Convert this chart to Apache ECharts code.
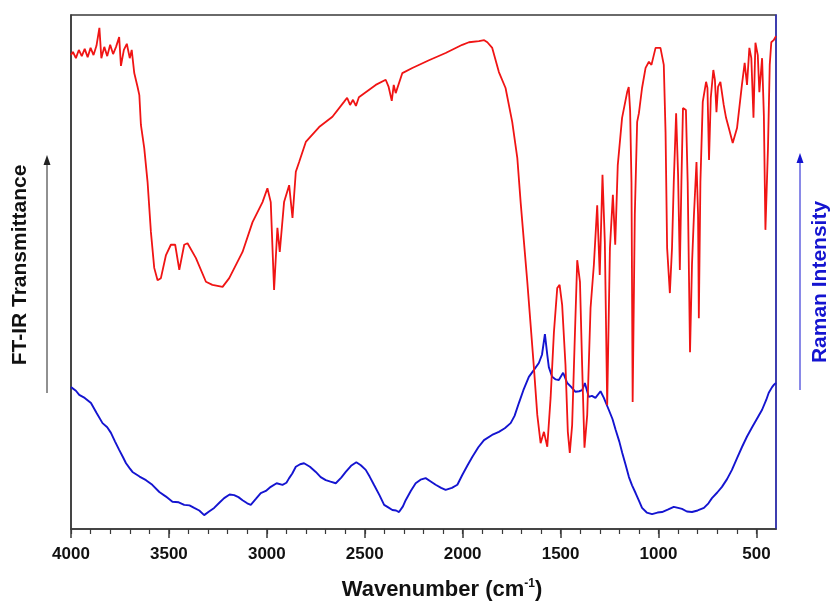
<!DOCTYPE html>
<html>
<head>
<meta charset="utf-8">
<script src="https://cdn.jsdelivr.net/npm/echarts@6/dist/echarts.min.js"></script>
<style>
html,body{margin:0;padding:0;background:#fff;}
#chart{width:835px;height:606px;}
</style>
</head>
<body>
<div id="chart"></div>
<script>
// ---- Data (wavenumber in cm-1, intensity in arbitrary units 0-100) ----
var irWavenumbers = [4000,3990,3975,3960,3945,3930,3915,3900,3885,3870,3855,3845,3830,3815,3800,3785,3770,3754,3745,3730,3715,3700,3690,3677,3660,3651,3643,3626,3609,3592,3575,3558,3541,3515,3490,3468,3447,3422,3405,3362,3311,3278,3226,3192,3124,3073,3022,2997,2980,2963,2946,2934,2912,2886,2869,2852,2835,2801,2733,2665,2606,2590,2575,2560,2545,2530,2444,2393,2378,2362,2352,2342,2308,2257,2172,2087,2002,1968,1917,1890,1874,1849,1815,1806,1781,1772,1747,1721,1704,1687,1670,1653,1636,1619,1602,1585,1568,1551,1534,1517,1505,1492,1475,1463,1453,1441,1429,1415,1401,1390,1378,1364,1347,1330,1313,1300,1286,1274,1262,1248,1233,1221,1208,1186,1160,1152,1145,1138,1132,1121,1109,1100,1084,1066,1049,1036,1015,990,973,964,956,942,931,922,910,900,891,883,875,860,851,839,829,819,806,798,794,786,774,757,750,742,733,720,712,704,696,684,667,655,641,621,599,574,560,548,536,526,515,505,493,485,471,462,454,441,432,424,412,400];
var irValues = [92.2,92.8,91.6,93.2,92.0,93.4,91.8,93.6,92.2,94.0,97.5,91.6,93.8,92.0,94.2,92.4,93.8,95.7,90.1,93.2,94.4,91.6,93.2,88.7,86.0,84.4,78.6,74.1,67.5,57.8,50.8,48.4,48.8,53.3,55.3,55.3,50.4,55.3,55.6,52.7,48.1,47.5,47.1,48.8,53.9,59.7,63.6,66.3,63.6,46.5,58.6,53.9,63.6,66.9,60.5,69.5,71.4,75.3,78.2,80.2,83.1,83.9,82.5,83.5,82.3,84.0,86.4,87.4,86.0,83.3,86.4,84.8,88.7,89.7,91.2,92.6,94.2,94.7,94.9,95.1,94.7,93.6,88.9,88.7,85.8,86.0,79.2,72.2,63.6,55.8,48.1,39.7,31.3,22.2,16.7,18.9,16.0,25.5,38.3,46.9,47.5,43.6,31.9,18.9,14.8,20.2,35.2,52.3,48.1,31.9,15.8,22.2,43.0,51.4,63.0,49.4,68.9,55.8,24.1,54.7,65.0,55.3,70.8,80.0,85.0,86.0,81.5,67.5,24.7,61.1,79.2,80.9,85.8,89.7,90.9,90.3,93.6,93.6,90.3,77.2,54.7,45.9,54.7,67.5,80.9,68.9,50.4,67.5,81.9,81.5,67.5,34.4,51.4,61.1,71.4,61.1,41.0,67.5,83.1,87.0,85.8,71.8,83.9,89.3,87.4,81.1,86.0,87.0,82.5,80.0,78.0,75.1,78.0,86.4,90.7,86.4,93.6,91.6,80.0,94.6,92.2,85.0,91.6,80.5,58.2,74.1,90.3,94.7,95.1,95.9];

var ramanWavenumbers = [4000,3995,3975,3958,3930,3898,3870,3839,3815,3796,3775,3754,3735,3719,3700,3686,3650,3617,3585,3549,3515,3482,3450,3422,3395,3371,3345,3320,3295,3269,3240,3218,3190,3167,3145,3124,3100,3082,3055,3031,3005,2980,2950,2920,2900,2886,2870,2852,2830,2810,2780,2750,2725,2699,2675,2648,2620,2597,2570,2543,2520,2495,2475,2453,2425,2401,2380,2359,2340,2325,2305,2291,2265,2240,2215,2189,2165,2138,2110,2087,2055,2027,2002,1975,1951,1920,1891,1850,1815,1785,1755,1735,1713,1690,1662,1635,1611,1595,1580,1568,1560,1543,1525,1509,1487,1466,1445,1424,1405,1390,1376,1356,1340,1322,1296,1279,1254,1235,1219,1200,1185,1168,1151,1135,1117,1100,1084,1060,1033,1005,982,950,922,900,880,855,829,800,768,745,727,700,676,650,625,600,573,548,522,495,471,450,437,420,412,400];
var ramanValues = [27.6,27.4,26.9,26.1,25.5,24.5,22.6,20.6,19.8,18.7,17.0,15.4,14.0,12.8,11.8,11.1,10.2,9.5,8.6,7.2,6.3,5.3,5.2,4.7,4.6,4.1,3.6,2.7,3.4,4.1,5.2,6.0,6.7,6.6,6.2,5.6,5.0,4.7,5.9,7.0,7.4,8.2,8.9,8.6,9.0,9.9,10.8,12.1,12.6,12.8,12.1,11.1,10.1,9.5,9.2,8.9,10.0,11.1,12.3,13.0,12.4,11.5,10.2,8.6,6.6,4.7,4.2,3.7,3.6,3.3,4.4,5.6,7.4,8.9,9.6,9.9,9.3,8.6,8.0,7.6,8.0,8.6,10.5,12.4,14.0,15.9,17.3,18.3,18.9,19.6,20.6,22.0,24.5,27.0,29.6,31.0,32.3,33.9,37.9,33.9,31.5,29.6,29.1,29.0,30.4,28.4,27.6,26.7,26.8,27.0,28.4,25.7,25.9,25.5,26.8,25.5,23.2,21.4,19.3,17.0,14.8,12.5,10.1,8.5,7.0,5.5,4.1,3.2,2.9,3.2,3.3,3.8,4.3,4.1,3.9,3.4,3.3,3.6,4.1,5.0,6.0,7.1,8.2,9.7,11.5,13.7,16.0,18.0,19.8,21.6,23.2,25.1,26.5,27.6,28.0,28.4];

var majorTicks = [4000,3500,3000,2500,2000,1500,1000,500];
var minorTicks = [];
for (var t = 500; t <= 4000; t += 100) { minorTicks.push(t); }

var irData = irWavenumbers.map(function (w, i) { return [w, irValues[i]]; });
var ramanData = ramanWavenumbers.map(function (w, i) { return [w, ramanValues[i]]; });

var chart = echarts.init(document.getElementById('chart'));
var axisColor = '#3a3a3a';
var blue = '#1414d0';
var red = '#f01414';
var fontFam = '"Liberation Sans", Arial, sans-serif';

chart.setOption({
  backgroundColor: '#ffffff',
  animation: false,
  grid: { left: 71, right: 59, top: 15, bottom: 77, show: true, borderColor: axisColor, borderWidth: 1.5, backgroundColor: 'transparent' },
  xAxis: [
    {
      type: 'value', min: 400, max: 4000, inverse: true, position: 'bottom',
      axisLine: { show: true, lineStyle: { color: axisColor, width: 1.5 } },
      axisTick: { show: true, inside: false, length: 9, customValues: majorTicks, lineStyle: { color: axisColor, width: 1.5 } },
      axisLabel: { show: true, customValues: majorTicks, margin: 17, color: '#111', fontFamily: fontFam, fontWeight: 'bold', fontSize: 17,
        formatter: function (v) { return String(v); } },
      splitLine: { show: false }
    },
    {
      type: 'value', min: 400, max: 4000, inverse: true, position: 'bottom',
      axisLine: { show: false },
      axisTick: { show: true, inside: false, length: 5, customValues: minorTicks, lineStyle: { color: axisColor, width: 1.2 } },
      axisLabel: { show: false },
      splitLine: { show: false }
    }
  ],
  yAxis: [
    {
      type: 'value', min: 0, max: 100, position: 'left',
      axisLine: { show: true, lineStyle: { color: axisColor, width: 1.5 } },
      axisTick: { show: false }, axisLabel: { show: false }, splitLine: { show: false }
    },
    {
      type: 'value', min: 0, max: 100, position: 'right',
      axisLine: { show: true, lineStyle: { color: '#3030c8', width: 1.5 } },
      axisTick: { show: false }, axisLabel: { show: false }, splitLine: { show: false }
    }
  ],
  series: [
    {
      name: 'FT-IR', type: 'line', xAxisIndex: 0, yAxisIndex: 0, data: irData,
      showSymbol: false, smooth: false, lineStyle: { color: red, width: 1.8 }, z: 3
    },
    {
      name: 'Raman', type: 'line', xAxisIndex: 0, yAxisIndex: 1, data: ramanData,
      showSymbol: false, smooth: false, lineStyle: { color: blue, width: 1.9 }, z: 2
    }
  ],
  graphic: [
    // left arrow
    { type: 'line', shape: { x1: 47, y1: 393, x2: 47, y2: 162 }, style: { stroke: '#222', lineWidth: 1 } },
    { type: 'polygon', shape: { points: [[47, 155], [43.5, 165], [50.5, 165]] }, style: { fill: '#222' } },
    // right arrow
    { type: 'line', shape: { x1: 800, y1: 390, x2: 800, y2: 160 }, style: { stroke: blue, lineWidth: 1 } },
    { type: 'polygon', shape: { points: [[800, 153], [796.5, 163], [803.5, 163]] }, style: { fill: blue } },
    // axis titles
    { type: 'text', x: 20, y: 265, rotation: Math.PI / 2,
      style: { text: 'FT-IR Transmittance', fill: '#111', font: 'bold 21px ' + fontFam, textAlign: 'center', textVerticalAlign: 'middle' } },
    { type: 'text', x: 820, y: 282, rotation: Math.PI / 2,
      style: { text: 'Raman Intensity', fill: blue, font: 'bold 21px ' + fontFam, textAlign: 'center', textVerticalAlign: 'middle' } },
    { type: 'text', x: 442, y: 590,
      style: {
        text: '{t|Wavenumber (cm}{s|-1}{t|)}', textAlign: 'center', textVerticalAlign: 'middle',
        rich: {
          t: { fontFamily: fontFam, fontWeight: 'bold', fontSize: 22, fill: '#111' },
          s: { fontFamily: fontFam, fontWeight: 'bold', fontSize: 12, fill: '#111', verticalAlign: 'top', padding: [0, 0, 12, 0] }
        }
      } }
  ]
});
</script>
</body>
</html>
